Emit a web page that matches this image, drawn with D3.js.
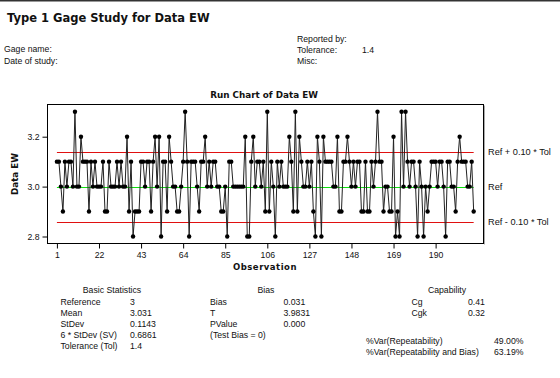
<!DOCTYPE html>
<html>
<head>
<meta charset="utf-8">
<script src="https://cdn.jsdelivr.net/npm/d3@7"></script>
<style>
  html, body { margin: 0; padding: 0; background: #fff; }
  svg { display: block; }
  .reg { font-family: "Liberation Sans", Arial, sans-serif; font-size: 8.7px; fill: #111; }
  .bold { font-family: "DejaVu Sans", sans-serif; font-weight: bold; fill: #111; }
</style>
</head>
<body>
<svg id="chart" width="560" height="378"></svg>
<script>
// ---------- data ----------
const values = [
  3.1,3.1,3.0,2.9,3.1,3.0,3.1,3.1,3.0,3.3,
  3.0,3.0,3.2,3.1,3.1,3.1,2.9,3.1,3.0,3.1,
  3.0,3.0,3.0,3.1,2.9,2.9,3.1,3.0,3.0,3.0,
  3.1,3.0,3.1,3.0,3.0,3.2,2.9,3.1,2.8,2.9,
  2.9,2.9,3.1,3.1,3.0,3.1,3.1,2.9,3.1,3.2,
  3.0,3.2,2.8,3.1,3.1,2.9,3.2,3.1,3.0,3.0,
  2.9,2.9,3.0,3.1,3.3,3.1,2.8,
  3.1,3.1,3.1,3.0,2.9,3.1,3.1,3.2,3.0,3.1,
  3.0,3.1,3.1,3.0,3.0,2.9,2.9,3.0,2.8,3.1,
  3.1,3.0,3.0,3.0,3.0,3.0,3.0,3.2,2.8,2.8,
  3.1,3.2,3.0,3.1,3.1,3.0,3.1,2.9,3.3,2.9,
  3.1,3.0,2.8,3.1,3.0,3.1,3.0,3.0,3.0,3.2,
  3.1,2.9,3.3,2.9,3.2,3.1,3.0,3.0,3.1,3.0,
  3.1,2.9,2.8,3.2,3.1,2.8,3.2,3.1,3.1,3.1,
  3.1,3.0,3.0,3.2,2.9,2.9,3.1,3.1,3.2,3.1,
  3.0,3.1,3.0,3.1,3.1,2.9,2.9,3.1,2.9,2.9,
  3.1,3.0,3.1,3.3,3.1,3.1,2.9,3.0,3.0,2.9,
  2.9,3.2,2.8,2.9,2.8,3.3,3.0,3.3,
  3.1,3.0,3.1,3.1,3.0,2.8,3.1,3.0,2.8,3.0,
  2.9,3.0,3.1,3.1,3.1,3.0,3.1,3.1,3.0,2.8,
  3.1,3.1,3.0,3.0,2.9,3.1,3.2,3.1,3.1,3.1,
  3.0,3.0,3.1,2.9
];
const observations = values.map((v, i) => i + 1);
const xTicks = [1, 22, 43, 64, 85, 106, 127, 148, 169, 190];
const yTicks = [2.8, 3.0, 3.2];
const refValue = 3;
const tolerance = 1.4;
const refLines = [
  { value: refValue + 0.1 * tolerance, label: "Ref + 0.10 * Tol", color: "#e01010" },
  { value: refValue, label: "Ref", color: "#10e010" },
  { value: refValue - 0.1 * tolerance, label: "Ref - 0.10 * Tol", color: "#e01010" }
];
const headerLeft = ["Gage name:", "Date of study:"];
const headerRight = [["Reported by:", ""], ["Tolerance:", "1.4"], ["Misc:", ""]];
const basicStats = [["Reference", "3"], ["Mean", "3.031"], ["StDev", "0.1143"],
                    ["6 * StDev (SV)", "0.6861"], ["Tolerance (Tol)", "1.4"]];
const biasStats = [["Bias", "0.031"], ["T", "3.9831"], ["PValue", "0.000"], ["(Test Bias = 0)", ""]];
const capability = [["Cg", "0.41"], ["Cgk", "0.32"]];
const pctVar = [["%Var(Repeatability)", "49.00%"], ["%Var(Repeatability and Bias)", "63.19%"]];

// ---------- drawing ----------
const svg = d3.select("#chart");
svg.append("rect").attr("x", 0).attr("y", 0).attr("width", 560).attr("height", 1.5).attr("fill", "#333");

svg.append("text").attr("class", "bold").attr("x", 7).attr("y", 22)
  .style("font-size", "11.5px").text("Type 1 Gage Study for Data EW");

headerLeft.forEach((t, i) => {
  svg.append("text").attr("class", "reg").attr("x", 4).attr("y", 52 + i * 12).text(t);
});
headerRight.forEach((r, i) => {
  svg.append("text").attr("class", "reg").attr("x", 297).attr("y", 42 + i * 11.2).text(r[0]);
  if (r[1]) svg.append("text").attr("class", "reg").attr("x", 362).attr("y", 42 + i * 11.2).text(r[1]);
});

const L = 47.5, R = 483.5, T = 104.5, B = 243.5;
const x = d3.scaleLinear().domain([-3.7, 213.9]).range([L, R]);
const y = d3.scaleLinear().domain([2.772, 3.329]).range([B, T]);

svg.append("text").attr("class", "bold").attr("x", 264).attr("y", 98)
  .attr("text-anchor", "middle").style("font-size", "8.8px").text("Run Chart of Data EW");

// frame shadow + frame
svg.append("line").attr("x1", R + 1).attr("x2", R + 1).attr("y1", T + 1).attr("y2", B + 1)
  .attr("stroke", "#aaa").attr("stroke-width", 1);
svg.append("rect").attr("x", L).attr("y", T).attr("width", R - L).attr("height", B - T)
  .attr("fill", "none").attr("stroke", "#000").attr("stroke-width", 1);

// reference lines
refLines.forEach(r => {
  svg.append("line").attr("x1", x(1)).attr("x2", x(values.length))
    .attr("y1", Math.round(y(r.value)) + 0.5).attr("y2", Math.round(y(r.value)) + 0.5)
    .attr("stroke", r.color).attr("stroke-width", 1);
  svg.append("text").attr("class", "reg").attr("x", 488).attr("y", y(r.value) + 3.2)
    .style("font-size", "9.2px").text(r.label);
});

// data line and points
const line = d3.line().x((d, i) => x(observations[i])).y(d => y(d));
svg.append("path").datum(values).attr("d", line).attr("fill", "none")
  .attr("stroke", "#222").attr("stroke-width", 1);
svg.append("g").selectAll("circle").data(values).join("circle")
  .attr("cx", (d, i) => x(observations[i])).attr("cy", d => y(d)).attr("r", 2.2).attr("fill", "#000");

// axes
const yAxis = d3.axisLeft(y).tickValues(yTicks).tickFormat(d3.format(".1f")).tickSize(5).tickPadding(3);
const gy = svg.append("g").attr("transform", `translate(${L},0)`).call(yAxis);
const xAxis = d3.axisBottom(x).tickValues(xTicks).tickSize(5).tickPadding(3);
const gx = svg.append("g").attr("transform", `translate(0,${B})`).call(xAxis);
[gx, gy].forEach(g => {
  g.select(".domain").remove();
  g.selectAll("text").attr("class", "reg").attr("fill", "#111");
  g.selectAll("line").attr("stroke", "#000");
});

svg.append("text").attr("class", "bold").attr("x", 265).attr("y", 270)
  .attr("text-anchor", "middle").style("font-size", "8.5px").style("letter-spacing", "0.5px")
  .text("Observation");
svg.append("text").attr("class", "bold").attr("transform", `translate(18,${(T + B) / 2}) rotate(-90)`)
  .attr("text-anchor", "middle").style("font-size", "8.8px").text("Data EW");

// statistics tables
function table(title, titleX, rows, labelX, valueX, y0) {
  svg.append("text").attr("class", "reg").attr("x", titleX).attr("y", 293).attr("text-anchor", "middle").text(title);
  rows.forEach((r, i) => {
    svg.append("text").attr("class", "reg").attr("x", labelX).attr("y", y0 + i * 11).text(r[0]);
    if (r[1]) svg.append("text").attr("class", "reg").attr("x", valueX).attr("y", y0 + i * 11).text(r[1]);
  });
}
table("Basic Statistics", 112, basicStats, 60.5, 130, 305);
table("Bias", 266, biasStats, 210, 283.5, 305);
table("Capability", 447, capability, 411.5, 468, 305);
pctVar.forEach((r, i) => {
  svg.append("text").attr("class", "reg").attr("x", 366).attr("y", 344 + i * 11).text(r[0]);
  svg.append("text").attr("class", "reg").attr("x", 494).attr("y", 344 + i * 11).text(r[1]);
});
</script>
</body>
</html>
